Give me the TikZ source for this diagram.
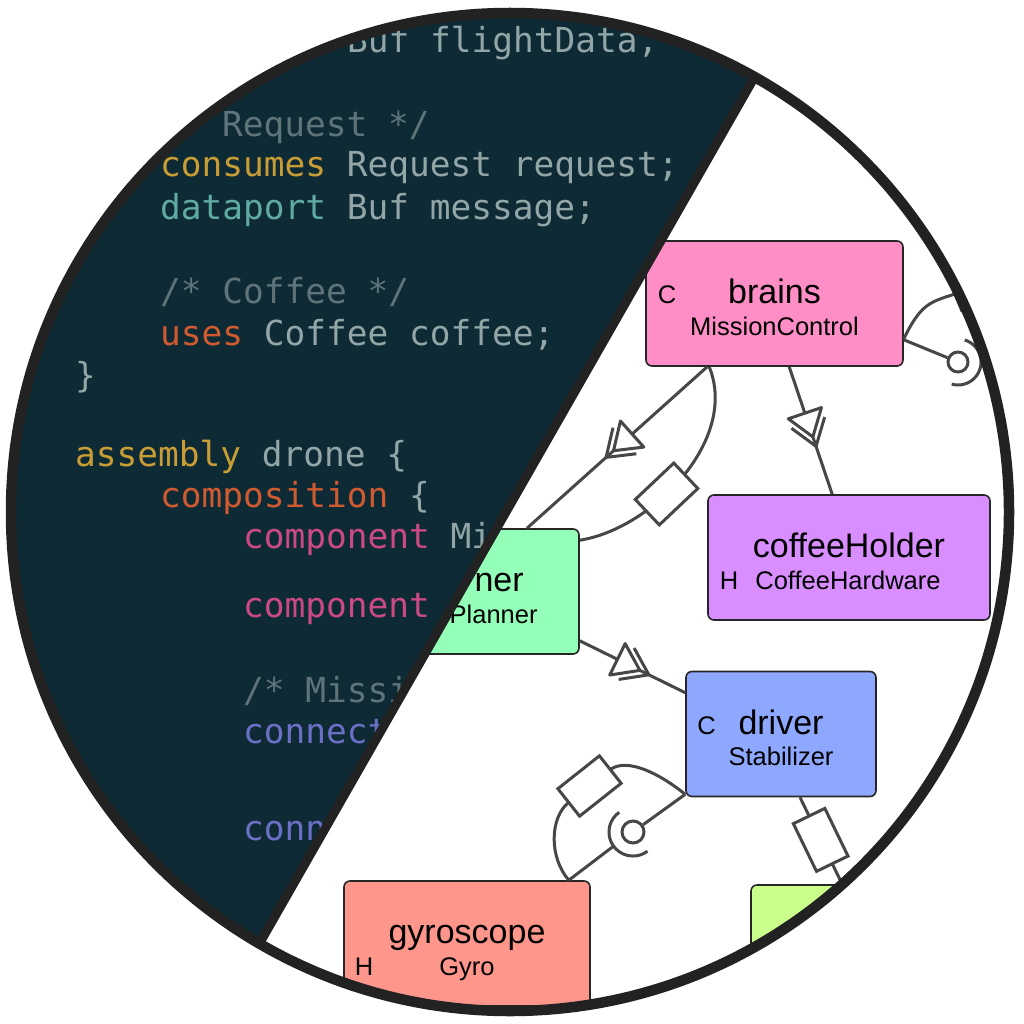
\documentclass[tikz,border=0pt]{standalone}
\usepackage{fontspec}
\setmainfont{Liberation Sans}
\newfontfamily\codefont{DejaVu Sans Mono}
\usetikzlibrary{decorations.markings,calc}
\definecolor{bgdark}{HTML}{0E2A35}
\definecolor{ringcol}{HTML}{222222}
\definecolor{ctext}{HTML}{93A6A7}
\definecolor{ccomment}{HTML}{5E7479}
\definecolor{cyellow}{HTML}{C89D36}
\definecolor{ccyan}{HTML}{5FABA2}
\definecolor{corange}{HTML}{D05B30}
\definecolor{cmagenta}{HTML}{CC4A83}
\definecolor{cviolet}{HTML}{6B70C6}
\definecolor{conncol}{HTML}{474747}
\definecolor{nodeborder}{HTML}{262626}
\definecolor{fbrains}{HTML}{FF8EC6}
\definecolor{fcoffee}{HTML}{D98EFF}
\definecolor{fplanner}{HTML}{93FFB9}
\definecolor{fdriver}{HTML}{8EA8FF}
\definecolor{fgyro}{HTML}{FF968C}
\definecolor{fgreen}{HTML}{C9FF8A}
\tikzset{
  comp/.style={draw=nodeborder, line width=1.6pt, rounded corners=6pt, minimum height=125pt, inner sep=0pt},
  ttl/.style={font=\fontsize{34}{40}\selectfont, anchor=base, inner sep=0pt},
  sub/.style={font=\fontsize{25.5}{30}\selectfont, anchor=base, inner sep=0pt},
  kind/.style={font=\fontsize{25.5}{30}\selectfont, anchor=base, inner sep=0pt},
  conn/.style={draw=conncol, line width=3pt},
  portbox/.style={draw=conncol, line width=3pt, fill=white, minimum width=53pt, minimum height=35pt, inner sep=0pt, sloped},
  ball/.style={circle, draw=conncol, line width=3pt, fill=white, minimum size=#1, inner sep=0pt},
  evt/.style={postaction={decorate, decoration={markings, mark=at position #1 with {
      \draw[conn, fill=white, line join=round] (0,0) -- (-25,17.5) -- (-25,-17.5) -- cycle;
      \draw[conn, line join=round] (-15,17.5) -- (10,0) -- (-15,-17.5);}}}},
  code/.style={font={\codefont\fontsize{34.45}{40}\selectfont}, anchor=base west, inner sep=0pt, text=ctext},
}
\begin{document}
\begin{tikzpicture}[x=1pt,y=-1pt]
\useasboundingbox (0,0) rectangle (1024,1024);
\fill[white] (0,0) rectangle (1024,1024);
\begin{scope}
  \clip (510,512) circle[radius=499];
  % components
  \node[comp, fill=fbrains, minimum width=257pt] (brains) at (774.5,303.5) {};
  \node[comp, fill=fcoffee, minimum width=282pt] (coffee) at (849,557.5) {};
  \node[comp, fill=fplanner, minimum width=224pt] (planner) at (467,591.5) {};
  \node[comp, fill=fdriver, minimum width=190pt] (driver) at (781,734) {};
  \node[comp, fill=fgyro, minimum width=246pt] (gyro) at (467,943.5) {};
  \node[comp, fill=fgreen, minimum width=250pt] (green) at (876,947.5) {};
  % texts
  \node[ttl] (brainsT) at (brains.center) {brains};
  \node[sub] (brainsS) at ($(brains.center)+(0,31.5)$) {MissionControl};
  \node[kind] (brainsK) at ($(brains.center)+(-107.5,0)$) {C};
  \node[ttl] (coffeeT) at (coffee.center) {coffeeHolder};
  \node[sub] (coffeeS) at ($(coffee.center)+(-1,31.5)$) {CoffeeHardware};
  \node[kind] (coffeeK) at ($(coffee.center)+(-120,31.5)$) {H};
  \node[ttl, anchor=base west] (plannerT) at ($(planner.center)+(7.3,0)$) {ner};
  \node[sub, anchor=base west] (plannerS) at ($(planner.center)+(-17.5,31.5)$) {Planner};
  \node[ttl] (driverT) at (driver.center) {driver};
  \node[sub] (driverS) at ($(driver.center)+(0,31.5)$) {Stabilizer};
  \node[kind] (driverK) at ($(driver.center)+(-74.5,0)$) {C};
  \node[ttl] (gyroT) at (gyro.center) {gyroscope};
  \node[sub] (gyroS) at ($(gyro.center)+(0,31.5)$) {Gyro};
  \node[kind] (gyroK) at ($(gyro.center)+(-103,31.5)$) {H};
  % connectors
  \draw[conn, evt=0.52] ([xshift=62pt]brains.south west) -- ([xshift=60pt]planner.north);
  \draw[conn] ([xshift=64pt]brains.south west) .. controls +(30,74) and +(71,-11) .. ([yshift=-12pt]planner.north east)
     node[portbox, pos=0.59] (pb2) {};
  \draw[conn, evt=0.55] ([xshift=144pt]brains.south west) -- ([xshift=125pt]coffee.north west);
  \draw[conn, evt=0.57] ([yshift=14pt]planner.south east) -- ([yshift=-22pt]driver.north west);
  % brains -> right (off picture)
  \node[ball=20pt] (ball1) at (958,362) {};
  \coordinate (c5a) at (955,294);
  \coordinate (c5b) at (1004,274);
  \draw[conn] ([yshift=27pt]brains.south east) -- (ball1);
  \draw[conn, shift={(ball1.center)}] plot[domain=-73:106, samples=40, smooth] ({23*cos(\x)},{23*sin(\x)});
  \draw[conn] ([yshift=28pt]brains.south east) .. controls +(17,-35) and +(-25,8) .. (c5a) -- (c5b)
     node[portbox, pos=0.5] (pb5) {};
  % driver -> gyroscope
  \node[ball=22pt] (ball2) at (633,832) {};
  \coordinate (s2) at (613.6,846.1);
  \coordinate (r7a) at (611,769);
  \coordinate (r7b) at (568,803);
  \draw[conn] ([yshift=3pt]driver.south west) -- (ball2);
  \draw[conn, shift={(ball2.center)}] plot[domain=53:235, samples=50, smooth] ({24*cos(\x)},{24*sin(\x)});
  \draw[conn] (s2) -- ([xshift=-22pt]gyro.north east);
  \draw[conn] ([yshift=3pt]driver.south west) .. controls +(-26,-21) and +(17,-11) .. (r7a) -- (r7b)
     node[portbox, pos=0.5] (pb7) {} .. controls +(-18,15) and +(-20,-23) .. ([xshift=-22pt]gyro.north east);
  % driver -> green
  \draw[conn] ([xshift=19pt]driver.south) -- ([xshift=92pt]green.north west) node[portbox, pos=0.49] (pb8) {};
  % dark code wedge
  \fill[bgdark] (994,-342) -- (18,1366) -- (-400,1366) -- (-400,-342) -- cycle;
  \begin{scope}
    \clip (994,-342) -- (18,1366) -- (-400,1366) -- (-400,-342) -- cycle;
    \node[code] (code1) at (347,53) {Buf flightData,};
    \node[code, text=ccomment] (code2) at (222,137) {Request */};
    \node[code] (code3) at (160,177) {\textcolor{cyellow}{consumes} Request request;};
    \node[code] (code4) at (160,219) {\textcolor{ccyan}{dataport} Buf message;};
    \node[code, text=ccomment] (code5) at (160,303) {/* Coffee */};
    \node[code] (code6) at (160,345) {\textcolor{corange}{uses} Coffee coffee;};
    \node[code] (code7) at (75,387) {\}};
    \node[code] (code8) at (75,466) {\textcolor{cyellow}{assembly} drone \{};
    \node[code] (code9) at (160,507) {\textcolor{corange}{composition} \{};
    \node[code] (code10) at (243,548) {\textcolor{cmagenta}{component} Mi};
    \node[code] (code11) at (243,617) {\textcolor{cmagenta}{component}};
    \node[code, text=ccomment] (code12) at (243,702) {/* Missi};
    \node[code, text=cviolet] (code13) at (243,743) {connect};
    \node[code, text=cviolet] (code14) at (243,840) {conn};
  \end{scope}
  \draw[ringcol, line width=9pt] (994,-342) -- (18,1366);
\end{scope}
\draw[ringcol, line width=10.5pt] (510,512) circle[radius=499];
\end{tikzpicture}
\end{document}
